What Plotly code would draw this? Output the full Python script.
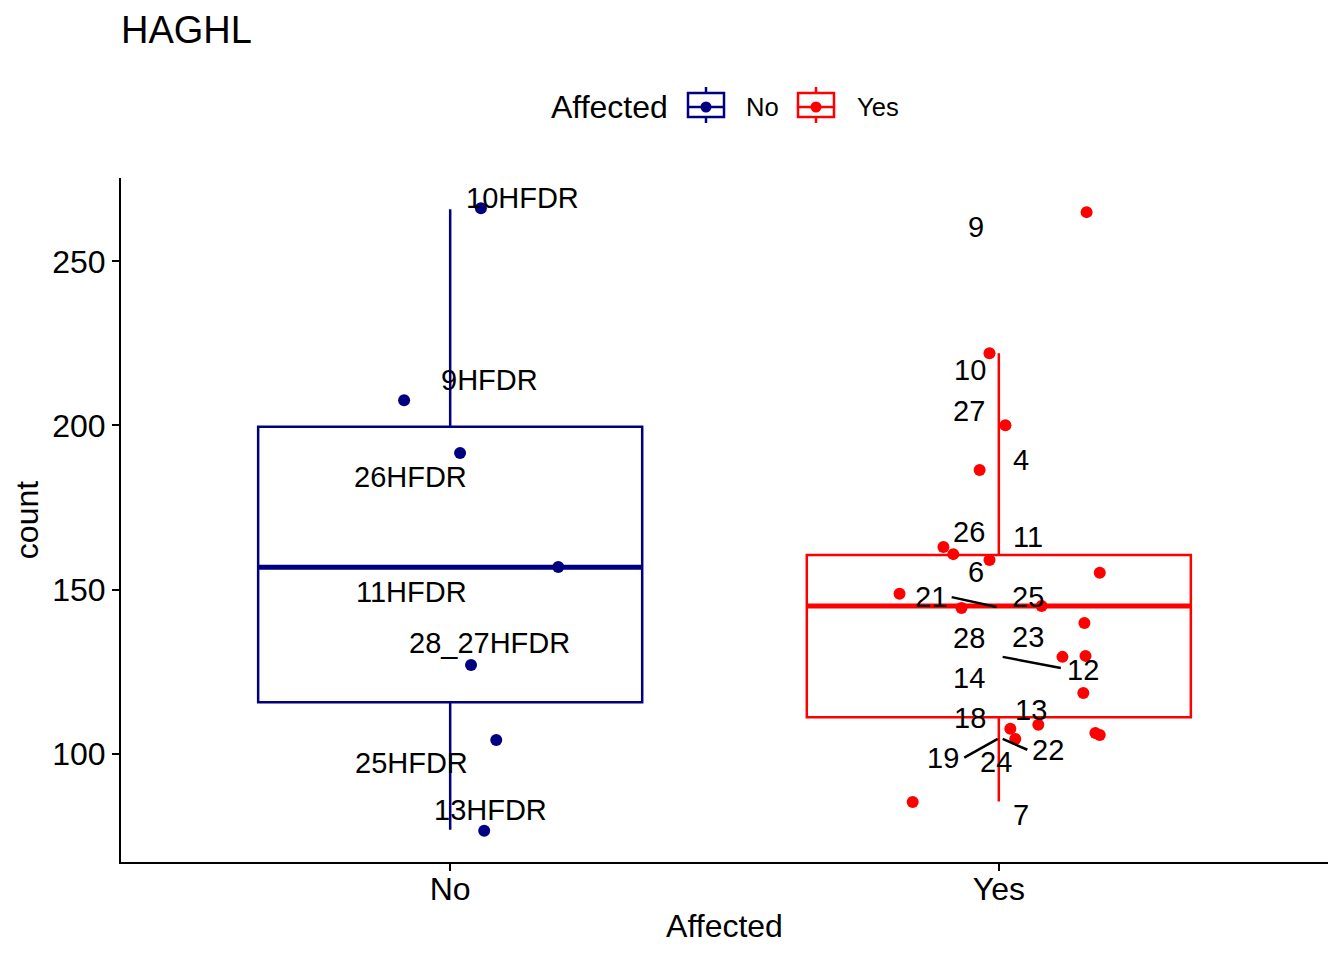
import plotly.graph_objects as go

# ---------------- data ----------------
groups = ["No", "Yes"]
group_colors = ["#000080", "#FF0000"]

# box statistics
box_q1 = [115.7, 111.1]
box_median = [156.8, 145.0]
box_q3 = [199.6, 160.5]
box_lower = [76.8, 85.4]
box_upper = [265.9, 222.0]

# jittered points, group "No"
no_counts = [266.2, 207.7, 191.6, 156.9, 127.0, 104.2, 76.5]
no_jitter = [0.056, -0.084, 0.018, 0.197, 0.038, 0.084, 0.062]

# jittered points, group "Yes"
yes_counts = [265.0, 222.0, 200.1, 186.4, 163.0, 160.8, 159.0, 155.1, 148.7, 144.4,
              145.0, 139.8, 129.5, 129.8, 118.5, 108.8, 107.6, 104.5, 106.3, 105.7, 85.3]
yes_jitter = [0.160, -0.017, 0.012, -0.035, -0.101, -0.083, -0.017, 0.184, -0.181, -0.068,
              0.078, 0.156, 0.116, 0.158, 0.154, 0.072, 0.021, 0.030, 0.176, 0.184, -0.157]

# repelled sample labels, group "No"
no_labels = ["10HFDR", "9HFDR", "26HFDR", "11HFDR", "28_27HFDR", "25HFDR", "13HFDR"]
no_label_x = [0.131, 0.071, -0.073, -0.071, 0.071, -0.071, 0.073]
no_label_y = [269.2, 213.8, 184.3, 149.3, 133.7, 97.2, 82.9]

# repelled sample labels, group "Yes"
yes_labels = ["9", "10", "27", "4", "26", "11", "6", "21", "25", "28",
              "23", "12", "14", "13", "18", "22", "19", "24", "7"]
yes_label_x = [0.959, 0.947, 0.945, 1.040, 0.945, 1.054, 0.959, 0.877, 1.054, 0.945,
               1.054, 1.153, 0.945, 1.058, 0.947, 1.089, 0.899, 0.994, 1.041]
yes_label_y = [260.4, 216.9, 204.4, 189.5, 167.5, 166.0, 155.4, 147.7, 147.7, 135.3,
               135.6, 125.5, 123.1, 113.3, 110.9, 101.2, 98.7, 97.5, 81.4]

# label connector segments (label end -> point end)
seg_names = ["21", "12", "19", "22"]
seg_x0 = [0.914, 1.113, 0.937, 1.052]
seg_y0 = [147.7, 126.1, 98.8, 101.2]
seg_x1 = [0.996, 1.007, 0.998, 1.007]
seg_y1 = [144.7, 129.5, 104.5, 104.5]

y_ticks = [100, 150, 200, 250]
box_width = 0.7

# ---------------- figure ----------------
OFF = 8  # default page body margin
W, H = 1344 - OFF, 960 - OFF
L, R, T, B = 121 - OFF, 16, 178 - OFF, 98
FONT = "Liberation Sans, Arial, sans-serif"


def px_x(px):
    """page pixel -> paper x"""
    return (px - OFF - L) / (W - L - R)


def px_y(py):
    """page pixel -> paper y"""
    return (H - B - (py - OFF)) / (H - T - B)


fig = go.Figure()

for i, g in enumerate(groups):
    fig.add_trace(go.Box(
        x=[i], q1=[box_q1[i]], median=[box_median[i]], q3=[box_q3[i]],
        lowerfence=[box_lower[i]], upperfence=[box_upper[i]],
        width=box_width, whiskerwidth=0, boxpoints=False,
        line=dict(color=group_colors[i], width=2.5),
        fillcolor="rgba(0,0,0,0)", name=g, showlegend=False, hoverinfo="skip"))
    # thicker median line like ggplot
    fig.add_trace(go.Scatter(
        x=[i - box_width / 2, i + box_width / 2], y=[box_median[i], box_median[i]],
        mode="lines", line=dict(color=group_colors[i], width=5),
        showlegend=False, hoverinfo="skip"))

fig.add_trace(go.Scatter(
    x=[0 + j for j in no_jitter], y=no_counts, mode="markers",
    marker=dict(color=group_colors[0], size=12, line=dict(width=0)),
    showlegend=False, name="No"))
fig.add_trace(go.Scatter(
    x=[1 + j for j in yes_jitter], y=yes_counts, mode="markers",
    marker=dict(color=group_colors[1], size=12, line=dict(width=0)),
    showlegend=False, name="Yes"))

for k in range(len(seg_names)):
    fig.add_shape(type="line", xref="x", yref="y",
                  x0=seg_x0[k], y0=seg_y0[k], x1=seg_x1[k], y1=seg_y1[k],
                  line=dict(color="black", width=2.5))

annotations = []
for lab, lx, ly in zip(no_labels + yes_labels, no_label_x + yes_label_x, no_label_y + yes_label_y):
    annotations.append(dict(x=lx, y=ly, xref="x", yref="y", text=lab, showarrow=False,
                            font=dict(family=FONT, size=29, color="black"),
                            xanchor="center", yanchor="middle"))

# ---- custom legend (ggplot-style boxplot keys) ----
legend_y = 107
annotations.append(dict(x=px_x(549), y=px_y(legend_y), xref="paper", yref="paper",
                        text="Affected", showarrow=False, xanchor="left", yanchor="middle",
                        font=dict(family=FONT, size=32, color="black")))
key_left = [688, 798]
text_left = [744, 855]
for i, g in enumerate(groups):
    c = group_colors[i]
    x0, x1 = key_left[i], key_left[i] + 36
    xm = (x0 + x1) / 2
    fig.add_shape(type="rect", xref="paper", yref="paper",
                  x0=px_x(x0), x1=px_x(x1), y0=px_y(93), y1=px_y(117),
                  line=dict(color=c, width=2.5), fillcolor="white")
    fig.add_shape(type="line", xref="paper", yref="paper",
                  x0=px_x(x0), x1=px_x(x1), y0=px_y(legend_y), y1=px_y(legend_y),
                  line=dict(color=c, width=2.5))
    fig.add_shape(type="line", xref="paper", yref="paper",
                  x0=px_x(xm), x1=px_x(xm), y0=px_y(87), y1=px_y(93),
                  line=dict(color=c, width=2.5))
    fig.add_shape(type="line", xref="paper", yref="paper",
                  x0=px_x(xm), x1=px_x(xm), y0=px_y(117), y1=px_y(123),
                  line=dict(color=c, width=2.5))
    fig.add_shape(type="circle", xref="paper", yref="paper",
                  x0=px_x(xm - 5.5), x1=px_x(xm + 5.5), y0=px_y(legend_y + 5.5), y1=px_y(legend_y - 5.5),
                  line=dict(color=c, width=0), fillcolor=c)
    annotations.append(dict(x=px_x(text_left[i]), y=px_y(legend_y), xref="paper", yref="paper",
                            text=g, showarrow=False, xanchor="left", yanchor="middle",
                            font=dict(family=FONT, size=25.6, color="black")))

fig.update_layout(
    width=W, height=H,
    margin=dict(l=L, r=R, t=T, b=B, pad=0),
    paper_bgcolor="white", plot_bgcolor="white",
    font=dict(family=FONT, color="black"),
    title=dict(text="HAGHL", x=0, xref="paper", xanchor="left",
               y=1 - (30 - OFF) / H, yref="container", yanchor="middle",
               font=dict(family=FONT, size=38, color="black")),
    showlegend=False,
    annotations=annotations,
    xaxis=dict(range=[-0.6, 1.6], tickmode="array", tickvals=list(range(len(groups))),
               ticktext=groups, showgrid=False, zeroline=False,
               showline=True, linecolor="black", linewidth=2,
               ticks="outside", ticklen=7, tickwidth=2, tickcolor="black",
               ticklabelstandoff=-9,
               tickfont=dict(family=FONT, size=32, color="black"),
               title=dict(text="Affected", standoff=8,
                          font=dict(family=FONT, size=32, color="black"))),
    yaxis=dict(range=[67.0, 275.4], tickmode="array", tickvals=y_ticks,
               showgrid=False, zeroline=False,
               showline=True, linecolor="black", linewidth=2,
               ticks="outside", ticklen=7, tickwidth=2, tickcolor="black",
               tickfont=dict(family=FONT, size=32, color="black"),
               title=dict(text="count", standoff=4,
                          font=dict(family=FONT, size=32, color="black"))),
)

fig.write_html("out.html")
